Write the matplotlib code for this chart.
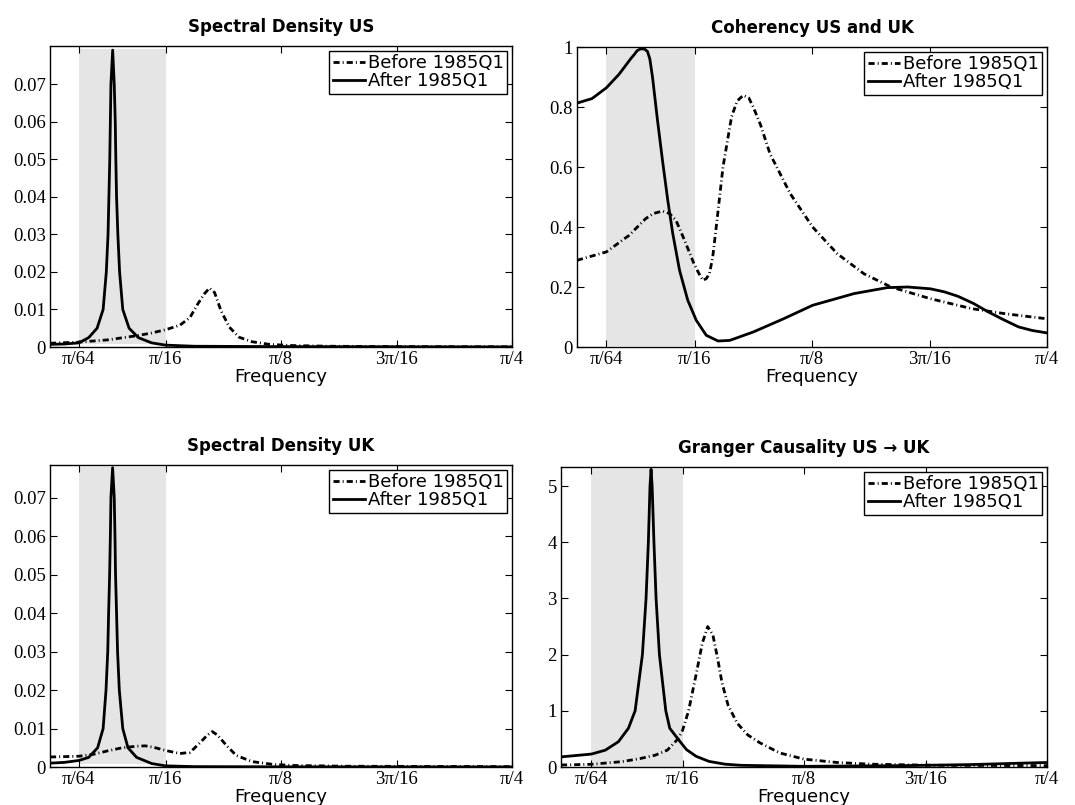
import numpy as np
import matplotlib.pyplot as plt

# frequencies are given in units of pi/64
u_us_before = [0, 1, 2, 3, 3.5, 4, 4.5, 4.85, 5.12, 5.35, 5.52, 5.70, 5.92, 6.21, 6.55, 7.0, 7.6, 8.3, 9.7, 12, 16]
us_before = [0.0010, 0.0013, 0.0019, 0.0030, 0.0037, 0.0046, 0.0058, 0.0079, 0.0115, 0.0142, 0.0157,
             0.0145, 0.0097, 0.0053, 0.0026, 0.0014, 0.0007, 0.0004, 0.0002, 0.0001, 0.00005]
u_us_after = [0, 0.5, 1.0, 1.34, 1.63, 1.84, 1.95, 2.01, 2.04, 2.07, 2.09, 2.11, 2.17, 2.225, 2.26,
              2.28, 2.305, 2.35, 2.41, 2.52, 2.74, 3.06, 3.52, 4.0, 5.0, 8.0, 16]
us_after = [0.0007, 0.0008, 0.0011, 0.0025, 0.005, 0.010, 0.020, 0.030, 0.040, 0.050, 0.060, 0.070,
            0.0791, 0.070, 0.060, 0.050, 0.040, 0.030, 0.020, 0.010, 0.005, 0.0025, 0.0011, 0.0005,
            0.0002, 0.0001, 0.00003]

u_coh_before = [0, 1.0, 1.77, 2.34, 2.6, 2.91, 3.15, 3.37, 3.66, 3.98, 4.15, 4.29, 4.4, 4.51, 4.62,
                4.74, 4.97, 5.26, 5.45, 5.66, 5.85, 6.0, 6.25, 6.57, 7.26, 8.02, 8.86, 9.77, 10.69,
                12.03, 13.43, 14.57, 16]
coh_before = [0.289, 0.317, 0.372, 0.428, 0.445, 0.453, 0.445, 0.422, 0.356, 0.278, 0.245, 0.222,
              0.228, 0.244, 0.30, 0.40, 0.60, 0.767, 0.82, 0.839, 0.83, 0.80, 0.74, 0.644, 0.511,
              0.40, 0.311, 0.244, 0.20, 0.161, 0.128, 0.111, 0.094]
u_coh_after = [0, 0.51, 1.0, 1.43, 1.83, 1.95, 2.05, 2.17, 2.3, 2.40, 2.48, 2.57, 2.74, 2.91, 3.09,
               3.26, 3.49, 3.77, 4.06, 4.40, 4.80, 5.2, 6.0, 7.03, 8.02, 9.43, 10.57, 11.26, 12.03,
               12.5, 12.97, 13.5, 14.0, 14.5, 15.03, 15.5, 16]
coh_after = [0.813, 0.828, 0.864, 0.909, 0.961, 0.975, 0.988, 0.994, 0.993, 0.985, 0.96, 0.90, 0.756,
             0.622, 0.489, 0.378, 0.256, 0.156, 0.089, 0.039, 0.020, 0.022, 0.050, 0.094, 0.139, 0.178,
             0.198, 0.200, 0.194, 0.184, 0.169, 0.145, 0.117, 0.092, 0.067, 0.055, 0.047]

u_uk_before = [0, 1, 1.5, 2, 2.5, 3.0, 3.3, 3.6, 4.0, 4.5, 4.85, 5.18, 5.45, 5.62, 5.8, 6.1, 6.45,
               7.0, 7.7, 8.4, 10.2, 16]
uk_before = [0.0026, 0.0028, 0.0033, 0.0042, 0.0050, 0.0054, 0.0055, 0.0051, 0.0043, 0.0035, 0.0038,
             0.0062, 0.0083, 0.0092, 0.0083, 0.0057, 0.0030, 0.0014, 0.0007, 0.0004, 0.0002, 0.0001]
u_uk_after = [0, 0.5, 1.0, 1.34, 1.65, 1.84, 1.94, 2.0, 2.03, 2.065, 2.09, 2.11, 2.168, 2.225, 2.25,
              2.27, 2.305, 2.34, 2.40, 2.52, 2.70, 3.0, 3.52, 4.0, 5.0, 8.0, 16]
uk_after = [0.0010, 0.0012, 0.0017, 0.0025, 0.005, 0.010, 0.020, 0.030, 0.040, 0.050, 0.060, 0.070,
            0.0778, 0.070, 0.060, 0.050, 0.040, 0.030, 0.020, 0.010, 0.005, 0.0025, 0.0009, 0.0003,
            0.0001, 0.00005, 0.00002]

u_gc_before = [0, 1, 2, 2.6, 3.1, 3.5, 3.85, 4.0, 4.2, 4.45, 4.65, 4.83, 5.0, 5.15, 5.3, 5.5, 5.8,
               6.15, 6.55, 7.2, 8.0, 9.1, 10.2, 12.3, 16]
gc_before = [0.036, 0.048, 0.095, 0.15, 0.21, 0.30, 0.50, 0.65, 1.0, 1.65, 2.2, 2.5, 2.35, 1.95, 1.5,
             1.1, 0.78, 0.57, 0.43, 0.25, 0.14, 0.08, 0.05, 0.03, 0.025]
u_gc_after = [0, 1, 1.46, 1.89, 2.22, 2.44, 2.68, 2.80, 2.876, 2.93, 2.965, 3.0, 3.06, 3.13, 3.24,
              3.45, 3.58, 3.85, 4.13, 4.45, 4.87, 5.4, 5.93, 8.0, 11.2, 13.4, 15.4, 16]
gc_after = [0.18, 0.23, 0.30, 0.45, 0.69, 1.0, 2.0, 3.0, 4.0, 5.0, 5.30, 5.0, 4.0, 3.0, 2.0, 1.0, 0.69,
            0.50, 0.31, 0.19, 0.10, 0.05, 0.03, 0.012, 0.024, 0.042, 0.072, 0.08]

titles = ['Spectral Density US', 'Coherency US and UK', 'Spectral Density UK',
          'Granger Causality US \u2192 UK']
xtick_labels = ['π/64', 'π/16', 'π/8', '3π/16', 'π/4']
xtick_units = [1, 4, 8, 12, 16]
band = [1, 4]   # shaded band, pi/64 .. pi/16

W, H = 1075, 805
fig = plt.figure(figsize=(W / 100, H / 100), dpi=100)

# pixel boxes (left, top, right, bottom)
boxes = [(50, 46, 512, 347), (577, 47, 1047, 347), (50, 465, 512, 767), (561, 467, 1047, 767)]
panels = [
    (u_us_before, us_before, u_us_after, us_after, (0, 0.0802), np.arange(0, 0.071, 0.01), (0.0008, 0.0795)),
    (u_coh_before, coh_before, u_coh_after, coh_after, (0, 1.0), np.arange(0, 1.01, 0.2), (0.005, 0.993)),
    (u_uk_before, uk_before, u_uk_after, uk_after, (0, 0.0785), np.arange(0, 0.071, 0.01), (0.0008, 0.0781)),
    (u_gc_before, gc_before, u_gc_after, gc_after, (0, 5.34), np.arange(0, 5.1, 1), (0.0, 5.31)),
]

dashdot = (0, (2.2, 1.1, 0.35, 1.1))
serif = 'Liberation Serif'

for (l, t, r, b), title, (ub, yb, ua, ya, ylim, yt, shade) in zip(boxes, titles, panels):
    ax = fig.add_axes([l / W, 1 - b / H, (r - l) / W, (b - t) / H])
    f = np.pi / 64
    ax.fill_between([band[0] * f, band[1] * f], shade[0], shade[1], color='#e5e5e5', lw=0, zorder=0)
    ax.plot(np.array(ub) * f, yb, color='black', lw=2.0, ls=dashdot, label='Before 1985Q1')
    ax.plot(np.array(ua) * f, ya, color='black', lw=2.0, ls='-', label='After 1985Q1')
    ax.set_xlim(0, np.pi / 4)
    ax.set_ylim(*ylim)
    ax.set_xticks(np.array(xtick_units) * f)
    ax.set_xticklabels(xtick_labels, family=serif, fontsize=13.5)
    ax.set_yticks(yt)
    ax.set_yticklabels(['%g' % round(v, 3) for v in yt], family=serif, fontsize=13.5)
    ax.tick_params(direction='in', length=5, width=0.8, top=True, right=True, pad=3)
    for s in ax.spines.values():
        s.set_linewidth(1.0)
    ax.set_title(title, fontsize=12, fontweight='bold', family='DejaVu Sans', pad=10)
    ax.set_xlabel('Frequency', fontsize=13, family='DejaVu Sans', labelpad=0)
    leg = ax.legend(loc='upper right', fancybox=False, edgecolor='black', framealpha=1,
                    borderaxespad=0.25, borderpad=0.2, handlelength=1.8, handletextpad=0.15,
                    labelspacing=0.0, prop={'family': 'DejaVu Sans', 'size': 13})
    leg.get_frame().set_linewidth(1.0)

fig.savefig('out.png', dpi=100)
